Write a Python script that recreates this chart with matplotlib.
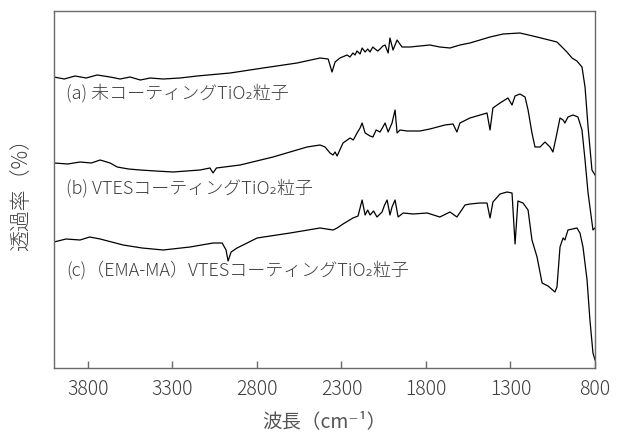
import matplotlib
matplotlib.use("Agg")
import matplotlib.pyplot as plt

plt.rcParams['font.family'] = ['Noto Sans CJK JP', 'DejaVu Sans']

# Wavenumber (cm^-1) and transmittance (arbitrary units, offset spectra)
wn_a = [4001, 3940, 3877, 3810, 3746, 3669, 3610, 3551, 3490, 3432, 3355, 3255, 3154, 2959,
        2764, 2563, 2427, 2379, 2356, 2338, 2309, 2267, 2250, 2232, 2220, 2208, 2190, 2178,
        2160, 2145, 2131, 2115, 2101, 2085, 2072, 2055, 2042, 2024, 2013, 1995, 1971, 1942,
        1895, 1836, 1777, 1718, 1658, 1599, 1540, 1421, 1344, 1244, 1143, 1025, 966, 936,
        907, 877, 859, 841, 818, 800]
t_a = [291, 289, 292, 290, 293, 291, 289, 291, 288, 290, 289, 290, 292, 295,
       300, 305, 310, 309, 296, 306, 310, 313, 311, 315, 313, 317, 314, 320,
       316, 319, 316, 321, 319, 317, 319, 322, 323, 315, 330, 318, 328, 321,
       321, 322, 323, 321, 320, 323, 325, 331, 334, 335, 331, 326, 316, 310,
       307, 301, 281, 241, 198, 193]

wn_b = [4001, 3920, 3847, 3780, 3728, 3669, 3627, 3560, 3491, 3400, 3296, 3137, 3078, 3060,
        3040, 2900, 2705, 2504, 2427, 2397, 2368, 2350, 2338, 2326, 2291, 2249, 2230, 2208,
        2190, 2178, 2160, 2131, 2114, 2095, 2072, 2055, 2042, 2024, 2001, 1983, 1971, 1954,
        1912, 1836, 1777, 1688, 1640, 1617, 1599, 1540, 1439, 1421, 1404, 1362, 1315, 1291,
        1273, 1244, 1214, 1196, 1173, 1155, 1125, 1096, 1066, 1049, 1031, 1007, 989, 978,
        960, 930, 901, 877, 859, 841, 812, 800]
t_b = [205, 204, 206, 205, 208, 205, 201, 199, 198, 197, 196, 198, 200, 195,
       200, 203, 211, 221, 223, 221, 215, 213, 216, 212, 225, 230, 228, 235,
       240, 245, 235, 232, 231, 238, 236, 241, 245, 236, 245, 258, 235, 238,
       237, 237, 239, 243, 244, 236, 245, 250, 255, 238, 260, 265, 270, 263,
       272, 274, 271, 258, 235, 221, 221, 226, 221, 216, 230, 250, 248, 245,
       251, 253, 251, 238, 208, 175, 138, 140]

wn_c = [4001, 3930, 3847, 3790, 3728, 3660, 3592, 3480, 3355, 3196, 3060, 3006, 2983, 2971,
        2953, 2918, 2799, 2604, 2427, 2350, 2326, 2291, 2232, 2202, 2178, 2160, 2145, 2131,
        2110, 2090, 2060, 2045, 2030, 2013, 2001, 1983, 1965, 1935, 1876, 1793, 1718, 1658,
        1617, 1569, 1540, 1481, 1439, 1421, 1404, 1362, 1321, 1291, 1273, 1256, 1226, 1196,
        1173, 1143, 1113, 1078, 1037, 1025, 1007, 989, 978, 960, 907, 889, 871, 847, 830,
        812, 800]
t_c = [126, 129, 128, 131, 129, 126, 123, 120, 118, 121, 125, 125, 118, 107,
       116, 120, 130, 135, 140, 138, 140, 144, 150, 152, 168, 153, 158, 153,
       157, 151, 156, 163, 168, 153, 161, 168, 151, 155, 154, 155, 151, 156,
       151, 163, 164, 165, 165, 150, 166, 174, 176, 175, 124, 167, 165, 158,
       128, 111, 85, 82, 76, 81, 121, 130, 128, 138, 140, 135, 121, 88, 48,
       15, 8]

labels = ['(a) 未コーティングTiO₂粒子',
          '(b) VTESコーティングTiO₂粒子',
          '(c)（EMA-MA）VTESコーティングTiO₂粒子']
label_pos = [(3930, 275), (3930, 180), (3930, 98)]

xticks = [3800, 3300, 2800, 2300, 1800, 1300, 800]

text_color = '#404040'
spine_color = '#6a6a6a'

fig = plt.figure(figsize=(6.18, 4.41), dpi=100)
ax = fig.add_axes([54/618, 1-368/441, (595-54)/618, (368-11)/441])

for wn, t in [(wn_a, t_a), (wn_b, t_b), (wn_c, t_c)]:
    ax.plot(wn, t, color='black', lw=0.9)

for lab, (x, y) in zip(labels, label_pos):
    ax.text(x, y, lab, fontsize=13, color=text_color, va='center', ha='left',
            fontweight='light')

ax.set_xlim(4001, 800)
ax.set_ylim(0, 357)
ax.set_xticks(xticks)
ax.set_xticklabels([str(v) for v in xticks], fontweight='light')
ax.set_yticks([])
ax.tick_params(axis='x', direction='in', length=5, width=1, color=spine_color,
               labelsize=14, labelcolor=text_color, pad=8)
for s in ax.spines.values():
    s.set_color(spine_color)
    s.set_linewidth(1.0)

ax.set_xlabel('波長（cm⁻¹）', fontsize=14, color='#555555', labelpad=8,
              family=['Noto Sans CJK JP', 'DejaVu Sans'], fontweight='normal')
ax.set_ylabel('透過率（%）', fontsize=15, color=text_color, labelpad=16,
              fontweight='light')

fig.savefig('out.png', dpi=100)
